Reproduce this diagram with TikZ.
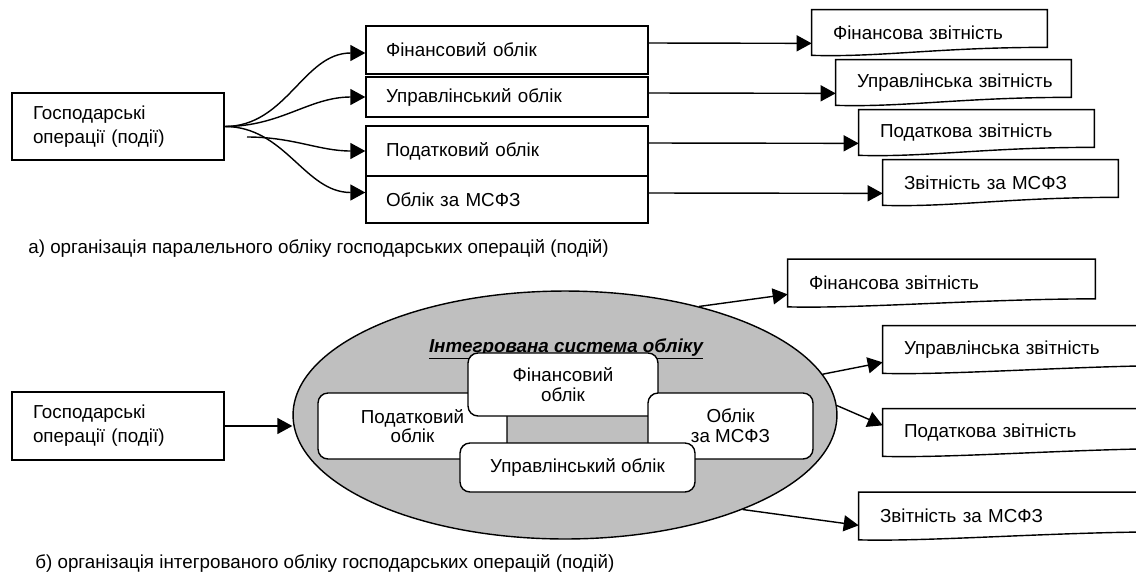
\documentclass[tikz,border=0pt]{standalone}
\usepackage{fontspec}
\setmainfont{Liberation Sans}
\usetikzlibrary{shapes.geometric, arrows.meta, calc}

\begin{document}
\begin{tikzpicture}[
    x=0.02cm, y=-0.02cm,
    every node/.style={font=\fontsize{10.7}{13.6}\selectfont},
    box/.style={rectangle, draw=black, line width=0.8pt, fill=white,
                inner xsep=0.4cm, inner ysep=0pt, align=left},
    doc/.style={rectangle, inner xsep=0.2cm, inner ysep=0pt, align=left,
                execute at begin node={\hspace*{0.22cm}}},
    ibox/.style={rectangle, rounded corners=0.2cm, draw=black, line width=0.8pt,
                 fill=white, inner sep=0pt, align=center, font=\fontsize{10.7}{11.2}\selectfont},
    docline/.style={line width=0.8pt},
    arrow/.style={-{Triangle[length=0.3cm, width=0.32cm]}, line width=0.8pt}
]
    \useasboundingbox (0,0) rectangle (1136,576);

    % a) parallel accounting
    \node[box, inner xsep=0.42cm, text width=3.4cm, minimum height=1.34cm] (lb1) at (118,126.5) {Господарські\\операції (події)};

    \node[box, text width=4.84cm, minimum height=0.96cm] (fo1) at (507,50) {Фінансовий облік};
    \node[box, text width=4.84cm, minimum height=0.8cm] (uo1) at (507,97) {Управлінський облік};
    \node[box, text width=4.84cm, minimum height=1.0cm] (po1) at (507,151) {Податковий облік};
    \node[box, text width=4.84cm, minimum height=0.94cm] (mo1) at (507,199.5) {Облік за МСФЗ};

    \node[doc, text width=4.3cm, minimum height=0.9cm] (fr1) at (929.5,32.5) {Фінансова звітність};
    \node[doc, text width=4.3cm, minimum height=0.9cm] (ur1) at (953.5,82.5) {Управлінська звітність};
    \node[doc, text width=4.3cm, minimum height=0.9cm] (pr1) at (976.5,132.5) {Податкова звітність};
    \node[doc, text width=4.3cm, minimum height=0.9cm] (mr1) at (1000.5,182.5) {Звітність за МСФЗ};

    % curved arrows from the operations box
    \coordinate (pstart) at (247,137);
    \draw[arrow] (lb1.east) to[out=0, in=180] ($(fo1.west)+(0,3)$);
    \draw[arrow] (lb1.east) to[out=0, in=180] (uo1.west);
    \draw[arrow] (pstart) to[out=0, in=180] (po1.west);
    \draw[arrow] (lb1.east) to[out=0, in=180] ($(mo1.west)+(0,-7)$);

    % arrows to the reports
    \foreach \a/\b/\dy in {fo1/fr1/-7, uo1/ur1/-4, po1/pr1/-8, mo1/mr1/-6.5}
        \draw[arrow] ($(\a.east)+(0,\dy)$) -- ($(\b.south west)+(0,-12)$);

    \node[anchor=west, inner sep=0pt] (capa) at (28,248) {а) організація паралельного обліку господарських операцій (подій)};

    % b) integrated accounting
    \node[box, inner xsep=0.42cm, text width=3.4cm, minimum height=1.36cm] (lb2) at (118,426) {Господарські\\операції (події)};

    \node[ellipse, draw=black, line width=0.8pt, fill=gray!50, inner sep=0pt,
          minimum width=10.88cm, minimum height=4.96cm] (isys) at (565,415) {};
    \node[anchor=base, font=\fontsize{10.7}{12}\selectfont\bfseries\itshape] (ititle) at (566,352) {\underline{Інтегрована система обліку}};

    \node[ibox, minimum width=3.78cm, minimum height=1.32cm] (po2) at (412.5,426) {Податковий\\облік};
    \node[ibox, minimum width=3.8cm, minimum height=1.26cm] (fo2) at (563,384.5) {Фінансовий\\облік};
    \node[ibox, minimum width=3.3cm, minimum height=1.32cm] (mo2) at (730.5,426) {Облік\\за МСФЗ};
    \node[ibox, minimum width=4.7cm, minimum height=0.98cm] (uo2) at (577.5,467.5) {Управлінський облік};

    \node[doc, text width=5.74cm, minimum height=0.94cm] (fr2) at (941.5,283) {Фінансова звітність};
    \node[doc, text width=5.74cm, minimum height=0.94cm] (ur2) at (1036.5,349.5) {Управлінська звітність};
    \node[doc, text width=5.74cm, minimum height=0.94cm] (pr2) at (1036.5,432.5) {Податкова звітність};
    \node[doc, text width=5.74cm, minimum height=0.94cm] (mr2) at (1012.5,516) {Звітність за МСФЗ};

    \draw[arrow] (lb2.east) -- (lb2.east -| isys.west);
    \draw[arrow] (isys.39) -- ($(fr2.south west)+(0,-12.5)$);
    \draw[arrow] (isys.9) -- ($(ur2.south west)+(0,-11)$);
    \draw[arrow] (isys.2) -- ($(pr2.south west)+(0,-31)$);
    \draw[arrow] (isys.332) -- ($(mr2.south west)+(0,-14.5)$);

    \node[anchor=west, inner sep=0pt] (capb) at (35,563) {б) організація інтегрованого обліку господарських операцій (подій)};

    % document outlines with wavy bottom
    \foreach \d in {fr1,ur1,pr1,mr1,fr2,ur2,pr2,mr2}
        \draw[docline] (\d.north west) -- (\d.north east) -- ($(\d.south east)+(0,-8)$)
            .. controls ($(\d.south east)+(-110,-8)$) and ($(\d.south west)+(70,2)$) .. (\d.south west) -- cycle;
\end{tikzpicture}
\end{document}
